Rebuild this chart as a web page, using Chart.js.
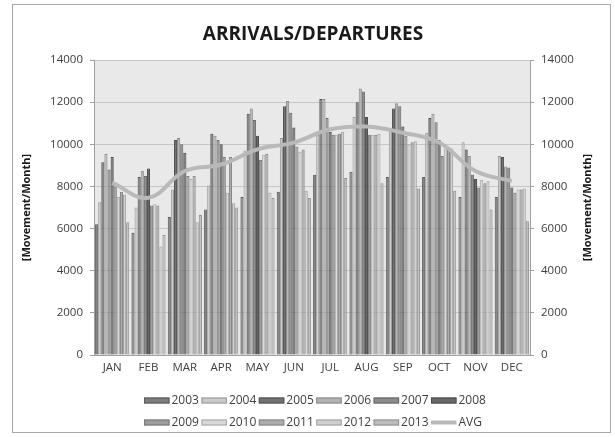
<!DOCTYPE html>
<html>
<head>
<meta charset="utf-8">
<script src="https://cdn.jsdelivr.net/npm/chart.js@4.4.0/dist/chart.umd.min.js"></script>
<style>
  html, body { margin: 0; padding: 0; background: #fff; }
  #wrap { width: 615px; height: 437px; position: relative; }
</style>
</head>
<body>
<div id="wrap"><canvas id="chart"></canvas></div>
<script>
// categories and series
const months = ["JAN", "FEB", "MAR", "APR", "MAY", "JUN", "JUL", "AUG", "SEP", "OCT", "NOV", "DEC"];
const years = ["2003", "2004", "2005", "2006", "2007", "2008", "2009", "2010", "2011", "2012", "2013"];

// movements per month, one value per year 2003..2013
const jan = [6200, 7250, 9150, 9550, 8800, 9400, 8000, 7500, 7750, 7600, 6300];
const feb = [5800, 7000, 8450, 8750, 8500, 8850, 7100, 7150, 7100, 5150, 5700];
const mar = [6550, 7850, 10200, 10300, 10000, 9600, 8500, 8350, 8500, 6300, 6650];
const apr = [6900, 8050, 10500, 10400, 10200, 10000, 9400, 7700, 9400, 7200, 7000];
const may = [7500, 9700, 11450, 11700, 11150, 10400, 9250, 9500, 9550, 7700, 7450];
const jun = [7750, 10300, 11800, 12050, 11500, 10800, 9900, 9650, 9750, 7800, 7450];
const jul = [8550, 10450, 12150, 12150, 11250, 10600, 10450, 10450, 10500, 10600, 8400];
const aug = [8700, 11300, 12000, 12650, 12500, 11300, 10450, 10450, 10450, 10500, 8150];
const sep = [8450, 10750, 11700, 11950, 11800, 10850, 10400, 10000, 10100, 10150, 7900];
const oct = [8450, 10550, 11250, 11450, 11050, 10200, 9450, 9800, 9850, 9800, 7800];
const nov = [7500, 10100, 9750, 9450, 8550, 8350, 7950, 8300, 8150, 8250, 6900];
const dec = [7500, 9450, 9400, 8950, 8900, 7950, 7700, 7850, 7850, 7900, 6350];
const byMonth = [jan, feb, mar, apr, may, jun, jul, aug, sep, oct, nov, dec];

const avgValues = [8170, 7460, 8730, 9040, 9760, 10080, 10710, 10840, 10550, 10080, 8730, 8250];

const yMax = 14000;
const yStep = 2000;

// look
const yearColors = ["#7d7d7d", "#c9c9c9", "#727272", "#b3b3b3", "#8b8b8b", "#686868",
                    "#9c9c9c", "#d8d8d8", "#acacac", "#d0d0d0", "#bcbcbc"];
const yearBorders = ["#5a5a5a", "#999999", "#505050", "#878787", "#666666", "#4a4a4a",
                     "#787878", "#a8a8a8", "#848484", "#a0a0a0", "#909090"];
const avgColor = "#b9b9b9";
const textColor = "#404040";
const titleColor = "#1a1a1a";
const axisTitleText = "[Movement/Month]";

Chart.defaults.font.family = '"Open Sans", sans-serif';
Chart.defaults.color = textColor;

const datasets = years.map((yr, i) => ({
  label: yr,
  type: "bar",
  data: byMonth.map(m => m[i]),
  backgroundColor: yearColors[i],
  borderColor: yearBorders[i],
  borderWidth: 1,
  categoryPercentage: 0.94,
  barPercentage: 1.0,
  yAxisID: "y",
  order: 1
}));

datasets.push({
  label: "AVG",
  type: "line",
  data: avgValues,
  borderColor: avgColor,
  borderWidth: 4,
  pointRadius: 0,
  tension: 0.4,
  fill: false,
  yAxisID: "y",
  order: 0
});

// background, frame, title, right axis title and the two-row legend
const decor = {
  id: "decor",
  beforeDraw(chart) {
    const { ctx, chartArea: a } = chart;
    ctx.save();
    ctx.fillStyle = "#ffffff";
    ctx.fillRect(0, 0, chart.width, chart.height);
    ctx.strokeStyle = "#a8a8a8";
    ctx.lineWidth = 1;
    ctx.strokeRect(12.5, 4.5, 598, 428);
    ctx.fillStyle = "#e9e9e9";
    ctx.fillRect(a.left, a.top, a.width, a.height);
    ctx.restore();
  },
  afterDraw(chart) {
    const { ctx, chartArea: a } = chart;
    ctx.save();
    ctx.fillStyle = titleColor;
    ctx.font = 'bold 19px "Open Sans", sans-serif';
    ctx.textAlign = "center";
    ctx.textBaseline = "middle";
    ctx.fillText("ARRIVALS/DEPARTURES", 313, 35);

    // secondary axis title, read bottom to top like the left one
    ctx.save();
    ctx.translate(588, (a.top + a.bottom) / 2);
    ctx.rotate(-Math.PI / 2);
    ctx.font = 'bold 11px "Open Sans", sans-serif';
    ctx.fillText(axisTitleText, 0, 0);
    ctx.restore();

    ctx.font = '12px "Open Sans", sans-serif';
    ctx.textAlign = "left";
    chart.data.datasets.forEach((ds, i) => {
      const row = Math.floor(i / 6);
      const col = i % 6;
      const x = 144 + col * 57.4;
      const y = row === 0 ? 400.5 : 422.5;
      if (ds.type === "line") {
        ctx.strokeStyle = ds.borderColor;
        ctx.lineWidth = 4;
        ctx.beginPath();
        ctx.moveTo(x, y);
        ctx.lineTo(x + 25.5, y);
        ctx.stroke();
      } else {
        ctx.fillStyle = ds.backgroundColor;
        ctx.fillRect(x, y - 3, 25.5, 6);
        ctx.strokeStyle = ds.borderColor;
        ctx.lineWidth = 1;
        ctx.strokeRect(x + 0.5, y - 2.5, 24.5, 5);
      }
      ctx.fillStyle = textColor;
      ctx.fillText(ds.label, x + 27.5, y + 0.5);
    });
    ctx.restore();
  }
};

const yTicks = { stepSize: yStep, padding: 7, font: { size: 11.5 }, color: textColor,
                 callback: v => String(v) };

new Chart(document.getElementById("chart"), {
  type: "bar",
  data: { labels: months, datasets: datasets },
  options: {
    responsive: true,
    maintainAspectRatio: false,
    animation: false,
    layout: { padding: { top: 60, left: 0, right: 0, bottom: 0 } },
    plugins: {
      legend: { display: false },
      title: { display: false },
      tooltip: { enabled: false }
    },
    scales: {
      x: {
        grid: { display: false, drawTicks: false },
        border: { color: "#a0a0a0" },
        ticks: { padding: 6, font: { size: 11.5 }, color: textColor },
        afterFit(s) { s.height = 82; }
      },
      y: {
        position: "left",
        min: 0,
        max: yMax,
        ticks: yTicks,
        grid: { color: "#c6c6c6", tickLength: 4, tickColor: "#a0a0a0" },
        border: { color: "#a0a0a0" },
        title: {
          display: true,
          text: axisTitleText,
          color: titleColor,
          font: { size: 11, weight: "bold" },
          padding: { top: 20, bottom: 0 }
        },
        afterFit(s) { s.width = 94; }
      },
      y1: {
        position: "right",
        min: 0,
        max: yMax,
        ticks: yTicks,
        grid: { drawOnChartArea: false, tickLength: 4, color: "#a0a0a0" },
        border: { color: "#a0a0a0" },
        afterFit(s) { s.width = 85; }
      }
    }
  },
  plugins: [decor]
});
</script>
</body>
</html>
